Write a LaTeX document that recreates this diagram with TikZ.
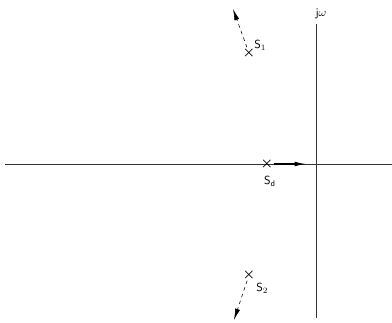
\documentclass[tikz,border=0pt]{standalone}
\usepackage{amsmath,amssymb}
\usepackage{tikz}
\usetikzlibrary{arrows.meta,positioning,calc}
\tikzset{
  axis/.style={line width=.45pt,black!80},
  pole/.style={inner sep=0pt,minimum size=5pt,font=\large\boldmath},
  polelabel/.style={font=\sffamily,inner sep=1pt},
  drift/.style={-{Latex[length=3.4mm,width=1.5mm]},line width=.5pt,dash pattern=on 3pt off 3pt},
  slide/.style={-{Latex[length=3.4mm,width=1.4mm]},line width=.9pt}
}
\begin{document}
\begin{tikzpicture}[x=0.03cm,y=-0.03cm]
\useasboundingbox (0,0) rectangle (392,322);

% axes
\coordinate (west) at (5,164);
\coordinate (east) at (392,164);
\coordinate (south) at (316,318);
\node[polelabel] (jw) at (321,14) {j$\omega$};
\draw[axis] (west) -- (east);
\draw[axis] (jw.south -| south) ++(0,4) coordinate (north) -- (south);

% poles
\node[pole] (s1) at (249,53) {$\times$};
\node[pole] (sd) at (267,164) {$\times$};
\node[pole] (s2) at (249,275) {$\times$};
\node[polelabel,anchor=west] (l1) at (253,45) {S$_1$};
\node[polelabel] (ld) at (270,181) {S$_\mathsf{d}$};
\node[polelabel,anchor=west] (l2) at (255,288) {S$_2$};

% movement
\coordinate (t1) at (233,9);
\coordinate (td) at (306,164);
\coordinate (t2) at (234,320);
\draw[drift] (s1) -- (t1);
\draw[slide] (sd) -- (td);
\draw[drift] (s2) -- (t2);
\end{tikzpicture}
\end{document}
